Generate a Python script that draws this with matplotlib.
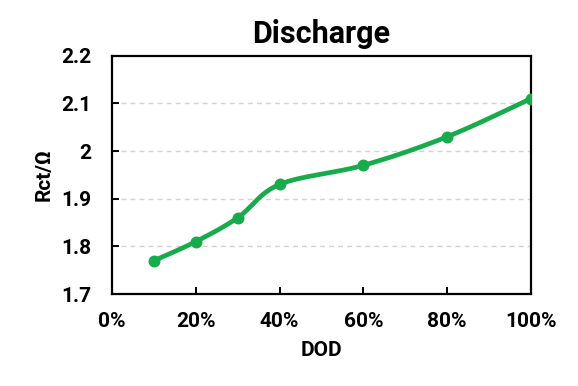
import numpy as np
import matplotlib
matplotlib.use("Agg")
import matplotlib.pyplot as plt
from matplotlib.ticker import FuncFormatter

# === data ===
dod = [10, 20, 30, 40, 60, 80, 100]
rct = [1.77, 1.81, 1.86, 1.93, 1.97, 2.03, 2.11]
x_ticks = [0, 20, 40, 60, 80, 100]
y_ticks = [1.7, 1.8, 1.9, 2.0, 2.1, 2.2]

green = "#18ab4b"


# === smooth line (Catmull-Rom, like an Excel "smoothed line") ===
def smooth(xs, ys, n=30):
    p = np.column_stack([xs, ys]).astype(float)
    p = np.vstack([p[0], p, p[-1]])
    out = []
    for i in range(1, len(p) - 2):
        p0, p1, p2, p3 = p[i - 1], p[i], p[i + 1], p[i + 2]
        t = np.linspace(0, 1, n)[:, None]
        c = 0.5 * ((2 * p1) + (-p0 + p2) * t + (2 * p0 - 5 * p1 + 4 * p2 - p3) * t ** 2
                   + (-p0 + 3 * p1 - 3 * p2 + p3) * t ** 3)
        out.append(c)
    c = np.vstack(out)
    return c[:, 0], c[:, 1]


plt.rcParams['font.family'] = ['Roboto', 'DejaVu Sans']
plt.rcParams['font.weight'] = 'bold'

fig = plt.figure(figsize=(5.78, 3.86), dpi=100)
ax = fig.add_axes([0.1938, 0.2383, 0.7249, 0.6174])

sx, sy = smooth(dod, rct)
ax.plot(sx, sy, color=green, lw=3.4, solid_capstyle='round', zorder=3)
ax.plot(dod, rct, 'o', color=green, ms=7.6, zorder=4)

ax.set_xlim(0, 100)
ax.set_ylim(1.7, 2.2)
ax.set_xticks(x_ticks)
ax.set_yticks(y_ticks)
ax.xaxis.set_major_formatter(FuncFormatter(lambda v, p: f"{v:.0f}%"))
ax.yaxis.set_major_formatter(FuncFormatter(lambda v, p: f"{v:g}"))

for y in y_ticks[1:-1]:
    ax.axhline(y, color="#d2d2d2", lw=1, ls=(0, (3.5, 3)), zorder=1)

for s in ax.spines.values():
    s.set_linewidth(1.6)
    s.set_color("black")

ax.tick_params(axis='x', direction='in', length=5, width=1.4, labelsize=15, pad=13)
ax.tick_params(axis='y', direction='in', length=5, width=1.4, labelsize=15, pad=15)

ax.set_title("Discharge", fontsize=22, fontweight='bold', pad=9)
ax.set_xlabel("DOD", fontsize=15, fontweight='bold', labelpad=7)
ax.set_ylabel("Rct/Ω", fontsize=15, fontweight='bold', labelpad=5.5)

fig.savefig("out.png", dpi=100)
